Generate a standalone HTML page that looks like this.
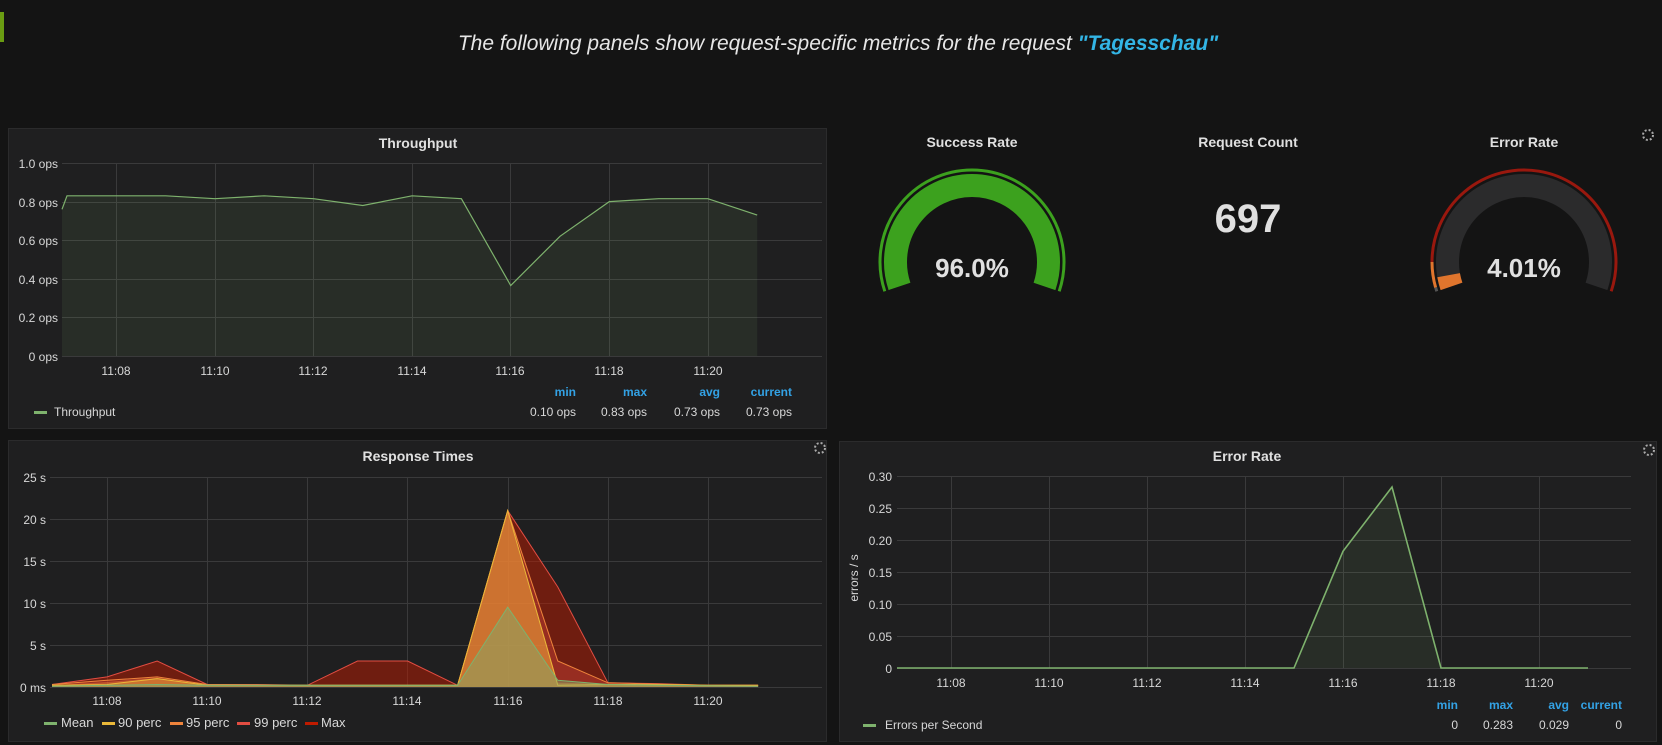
<!DOCTYPE html>
<html><head><meta charset="utf-8"><style>
html,body{margin:0;padding:0;background:#141414;}
svg{display:block;font-family:"Liberation Sans",sans-serif;}
</style></head><body>
<svg width="1662" height="745" viewBox="0 0 1662 745" xmlns="http://www.w3.org/2000/svg">
<rect width="1662" height="745" fill="#141414"/>
<rect x="0" y="12" width="4" height="30" fill="#6a9c12"/>
<text x="838" y="50" text-anchor="middle" font-size="21" font-style="italic" fill="#e6e6e6">The following panels show request-specific metrics for the request <tspan fill="#33b5e5" font-weight="bold">"Tagesschau"</tspan></text>

<!-- Throughput panel -->
<rect x="8.5" y="128.5" width="818" height="300" fill="#1f1f20" stroke="#2b2b2c"/>
<text x="418" y="148" text-anchor="middle" font-size="14" font-weight="bold" fill="#e0e0e0">Throughput</text>
<g stroke="#3a3a3b" stroke-width="1">
<line x1="62" y1="163.5" x2="822" y2="163.5"/><line x1="62" y1="202.5" x2="822" y2="202.5"/><line x1="62" y1="240.5" x2="822" y2="240.5"/><line x1="62" y1="279.5" x2="822" y2="279.5"/><line x1="62" y1="317.5" x2="822" y2="317.5"/><line x1="62" y1="356.5" x2="822" y2="356.5"/>
<line x1="116.5" y1="163" x2="116.5" y2="356"/><line x1="215.5" y1="163" x2="215.5" y2="356"/><line x1="313.5" y1="163" x2="313.5" y2="356"/><line x1="412.5" y1="163" x2="412.5" y2="356"/><line x1="510.5" y1="163" x2="510.5" y2="356"/><line x1="609.5" y1="163" x2="609.5" y2="356"/><line x1="708.5" y1="163" x2="708.5" y2="356"/>
</g>
<g font-size="12" fill="#d8d8d8" text-anchor="end">
<text x="58" y="168">1.0 ops</text><text x="58" y="207">0.8 ops</text><text x="58" y="245">0.6 ops</text><text x="58" y="284">0.4 ops</text><text x="58" y="322">0.2 ops</text><text x="58" y="361">0 ops</text>
</g>
<g font-size="12" fill="#d8d8d8" text-anchor="middle">
<text x="116" y="375">11:08</text><text x="215" y="375">11:10</text><text x="313" y="375">11:12</text><text x="412" y="375">11:14</text><text x="510" y="375">11:16</text><text x="609" y="375">11:18</text><text x="708" y="375">11:20</text>
</g>
<path d="M62,209.3 L67,195.8 L116.3,195.8 L165.6,195.8 L214.9,198.7 L264.2,195.8 L313.5,198.7 L362.8,205.5 L412.1,195.8 L461.4,198.7 L510.7,285.5 L560,236.3 L609.3,201.6 L658.6,198.7 L707.9,198.7 L757.2,215.1 L757.2,356 L62,356Z" fill="#7eb26d" fill-opacity="0.1"/>
<polyline points="62,209.3 67,195.8 116.3,195.8 165.6,195.8 214.9,198.7 264.2,195.8 313.5,198.7 362.8,205.5 412.1,195.8 461.4,198.7 510.7,285.5 560,236.3 609.3,201.6 658.6,198.7 707.9,198.7 757.2,215.1" fill="none" stroke="#7eb26d" stroke-width="1.2"/>
<g font-size="12" font-weight="bold" fill="#33a2e5" text-anchor="end">
<text x="576" y="396">min</text><text x="647" y="396">max</text><text x="720" y="396">avg</text><text x="792" y="396">current</text>
</g>
<g font-size="12" fill="#d8d8d8" text-anchor="end">
<text x="576" y="416">0.10 ops</text><text x="647" y="416">0.83 ops</text><text x="720" y="416">0.73 ops</text><text x="792" y="416">0.73 ops</text>
</g>
<rect x="34" y="411" width="13" height="3" fill="#7eb26d"/>
<text x="54" y="416" font-size="12" fill="#d8d8d8">Throughput</text>

<!-- Gauges -->
<text x="972" y="147" text-anchor="middle" font-size="14" font-weight="bold" fill="#e0e0e0">Success Rate</text>
<text x="1248" y="147" text-anchor="middle" font-size="14" font-weight="bold" fill="#e0e0e0">Request Count</text>
<text x="1524" y="147" text-anchor="middle" font-size="14" font-weight="bold" fill="#e0e0e0">Error Rate</text>
<path d="M884.8,291.3 A92,92 0 1 1 1059.2,291.3" fill="none" stroke="#3ca11e" stroke-width="3"/>
<path d="M899.5,286.4 A76.5,76.5 0 1 1 1044.5,286.4" fill="none" stroke="#3ca11e" stroke-width="23"/>
<text x="972" y="277" text-anchor="middle" font-size="26" font-weight="bold" fill="#e0e0e0">96.0%</text>
<text x="1248" y="232" text-anchor="middle" font-size="40" font-weight="bold" fill="#e0e0e0">697</text>
<path d="M1436.8,291.3 A92,92 0 0 1 1435.6,287.4" fill="none" stroke="#555" stroke-width="3"/>
<path d="M1435.6,287.4 A92,92 0 0 1 1432,262" fill="none" stroke="#e0752d" stroke-width="3"/>
<path d="M1432,262 A92,92 0 1 1 1611.2,291.3" fill="none" stroke="#99180e" stroke-width="3"/>
<path d="M1451.5,286.4 A76.5,76.5 0 1 1 1596.5,286.4" fill="none" stroke="#2b2b2c" stroke-width="23"/>
<path d="M1451.5,286.4 A76.5,76.5 0 0 1 1448.6,275.2" fill="none" stroke="#e0752d" stroke-width="23"/>
<text x="1524" y="277" text-anchor="middle" font-size="26" font-weight="bold" fill="#e0e0e0">4.01%</text>
<circle cx="1648" cy="135" r="5" fill="none" stroke="#aaa" stroke-width="2" stroke-dasharray="2 2"/>

<!-- Response Times -->
<rect x="8.5" y="440.5" width="818" height="301" fill="#1f1f20" stroke="#2b2b2c"/>
<text x="418" y="461" text-anchor="middle" font-size="14" font-weight="bold" fill="#e0e0e0">Response Times</text>
<circle cx="820" cy="448" r="5" fill="none" stroke="#aaa" stroke-width="2" stroke-dasharray="2 2"/>
<g stroke="#3a3a3b" stroke-width="1">
<line x1="50" y1="477.5" x2="822" y2="477.5"/><line x1="50" y1="519.5" x2="822" y2="519.5"/><line x1="50" y1="561.5" x2="822" y2="561.5"/><line x1="50" y1="603.5" x2="822" y2="603.5"/><line x1="50" y1="645.5" x2="822" y2="645.5"/><line x1="50" y1="687.5" x2="822" y2="687.5"/>
<line x1="107.5" y1="477" x2="107.5" y2="687"/><line x1="207.5" y1="477" x2="207.5" y2="687"/><line x1="307.5" y1="477" x2="307.5" y2="687"/><line x1="407.5" y1="477" x2="407.5" y2="687"/><line x1="508.5" y1="477" x2="508.5" y2="687"/><line x1="608.5" y1="477" x2="608.5" y2="687"/><line x1="708.5" y1="477" x2="708.5" y2="687"/>
</g>
<g font-size="12" fill="#d8d8d8" text-anchor="end">
<text x="46" y="482">25 s</text><text x="46" y="524">20 s</text><text x="46" y="566">15 s</text><text x="46" y="608">10 s</text><text x="46" y="650">5 s</text><text x="46" y="692">0 ms</text>
</g>
<g font-size="12" fill="#d8d8d8" text-anchor="middle">
<text x="107" y="705">11:08</text><text x="207" y="705">11:10</text><text x="307" y="705">11:12</text><text x="407" y="705">11:14</text><text x="508" y="705">11:16</text><text x="608" y="705">11:18</text><text x="708" y="705">11:20</text>
</g>
<path d="M52,684.5 L107.1,676.9 L157.2,661 L207.2,684.5 L257.3,684.5 L307.4,685.3 L357.5,661 L407.6,661 L457.6,685.3 L507.7,510.6 L557.8,587 L607.9,682.8 L658,683.6 L708,685.3 L758.1,685.3 L758.1,687 L52,687Z" fill="#bf1b00" fill-opacity="0.5"/>
<polyline points="52,684.5 107.1,676.9 157.2,661 207.2,684.5 257.3,684.5 307.4,685.3 357.5,661 407.6,661 457.6,685.3 507.7,510.6 557.8,587 607.9,682.8 658,683.6 708,685.3 758.1,685.3" fill="none" stroke="#e24d42" stroke-width="1"/>
<path d="M52,684.5 L107.1,680.3 L157.2,676.9 L207.2,684.5 L257.3,684.9 L307.4,685.3 L357.5,685.3 L407.6,685.3 L457.6,685.3 L507.7,510.6 L557.8,661 L607.9,682.8 L658,684.1 L708,685.3 L758.1,685.3 L758.1,687 L52,687Z" fill="#e24d42" fill-opacity="0.35"/>
<polyline points="52,684.5 107.1,680.3 157.2,676.9 207.2,684.5 257.3,684.9 307.4,685.3 357.5,685.3 407.6,685.3 457.6,685.3 507.7,510.6 557.8,661 607.9,682.8 658,684.1 708,685.3 758.1,685.3" fill="none" stroke="#ef843c" stroke-width="1"/>
<path d="M52,685.3 L107.1,682 L157.2,677.8 L207.2,685.3 L307.4,685.3 L457.6,685.3 L507.7,510.6 L557.8,682.8 L607.9,683.6 L658,684.5 L708,685.3 L758.1,685.3 L758.1,687 L52,687Z" fill="#ef843c" fill-opacity="0.45"/>
<path d="M52,685.3 L107.1,684.5 L157.2,678.6 L207.2,685.3 L457.6,685.3 L507.7,510.6 L557.8,685.3 L607.9,684.5 L658,684.5 L708,685.3 L758.1,685.3 L758.1,687 L52,687Z" fill="#eab839" fill-opacity="0.3"/>
<polyline points="52,685.3 107.1,684.5 157.2,678.6 207.2,685.3 457.6,685.3 507.7,510.6 557.8,685.3 607.9,684.5 658,684.5 708,685.3 758.1,685.3" fill="none" stroke="#eab839" stroke-width="1"/>
<path d="M52,686.2 L107.1,685.3 L157.2,684.5 L207.2,685.3 L457.6,685.3 L507.7,607.2 L557.8,680.3 L607.9,684.5 L658,685.3 L708,685.7 L758.1,686.2 L758.1,687 L52,687Z" fill="#7eb26d" fill-opacity="0.45"/>
<polyline points="52,686.2 107.1,685.3 157.2,684.5 207.2,685.3 457.6,685.3 507.7,607.2 557.8,680.3 607.9,684.5 658,685.3 708,685.7 758.1,686.2" fill="none" stroke="#7eb26d" stroke-width="1"/>
<g font-size="13" fill="#d8d8d8">
<rect x="44" y="722" width="13" height="3" fill="#7eb26d"/><text x="61" y="727">Mean</text>
<rect x="102" y="722" width="13" height="3" fill="#eab839"/><text x="118" y="727">90 perc</text>
<rect x="170" y="722" width="13" height="3" fill="#ef843c"/><text x="186" y="727">95 perc</text>
<rect x="237" y="722" width="13" height="3" fill="#e24d42"/><text x="254" y="727">99 perc</text>
<rect x="305" y="722" width="13" height="3" fill="#bf1b00"/><text x="321" y="727">Max</text>
</g>

<!-- Error Rate panel -->
<rect x="839.5" y="441.5" width="817" height="300" fill="#1f1f20" stroke="#2b2b2c"/>
<text x="1247" y="461" text-anchor="middle" font-size="14" font-weight="bold" fill="#e0e0e0">Error Rate</text>
<circle cx="1649" cy="450" r="5" fill="none" stroke="#aaa" stroke-width="2" stroke-dasharray="2 2"/>
<g stroke="#3a3a3b" stroke-width="1">
<line x1="897" y1="476.5" x2="1631" y2="476.5"/><line x1="897" y1="508.5" x2="1631" y2="508.5"/><line x1="897" y1="540.5" x2="1631" y2="540.5"/><line x1="897" y1="572.5" x2="1631" y2="572.5"/><line x1="897" y1="604.5" x2="1631" y2="604.5"/><line x1="897" y1="636.5" x2="1631" y2="636.5"/><line x1="897" y1="668.5" x2="1631" y2="668.5"/>
<line x1="951.5" y1="476" x2="951.5" y2="669"/><line x1="1049.5" y1="476" x2="1049.5" y2="669"/><line x1="1147.5" y1="476" x2="1147.5" y2="669"/><line x1="1245.5" y1="476" x2="1245.5" y2="669"/><line x1="1343.5" y1="476" x2="1343.5" y2="669"/><line x1="1441.5" y1="476" x2="1441.5" y2="669"/><line x1="1539.5" y1="476" x2="1539.5" y2="669"/>
</g>
<g font-size="12" fill="#d8d8d8" text-anchor="end">
<text x="892" y="481">0.30</text><text x="892" y="513">0.25</text><text x="892" y="545">0.20</text><text x="892" y="577">0.15</text><text x="892" y="609">0.10</text><text x="892" y="641">0.05</text><text x="892" y="673">0</text>
</g>
<g font-size="12" fill="#d8d8d8" text-anchor="middle">
<text x="951" y="687">11:08</text><text x="1049" y="687">11:10</text><text x="1147" y="687">11:12</text><text x="1245" y="687">11:14</text><text x="1343" y="687">11:16</text><text x="1441" y="687">11:18</text><text x="1539" y="687">11:20</text>
</g>
<text transform="translate(858,578) rotate(-90)" text-anchor="middle" font-size="12" fill="#d8d8d8">errors / s</text>
<path d="M1294,668 L1343,551.3 L1392,487 L1441,668Z" fill="#7eb26d" fill-opacity="0.1"/>
<polyline points="897,668 1294,668 1343,551.3 1392,487 1441,668 1588,668" fill="none" stroke="#7eb26d" stroke-width="1.6"/>
<g font-size="12" font-weight="bold" fill="#33a2e5" text-anchor="end">
<text x="1458" y="709">min</text><text x="1513" y="709">max</text><text x="1569" y="709">avg</text><text x="1622" y="709">current</text>
</g>
<g font-size="12" fill="#d8d8d8" text-anchor="end">
<text x="1458" y="729">0</text><text x="1513" y="729">0.283</text><text x="1569" y="729">0.029</text><text x="1622" y="729">0</text>
</g>
<rect x="863" y="724" width="13" height="3" fill="#7eb26d"/>
<text x="885" y="729" font-size="12" fill="#d8d8d8">Errors per Second</text>
</svg>
</body></html>
